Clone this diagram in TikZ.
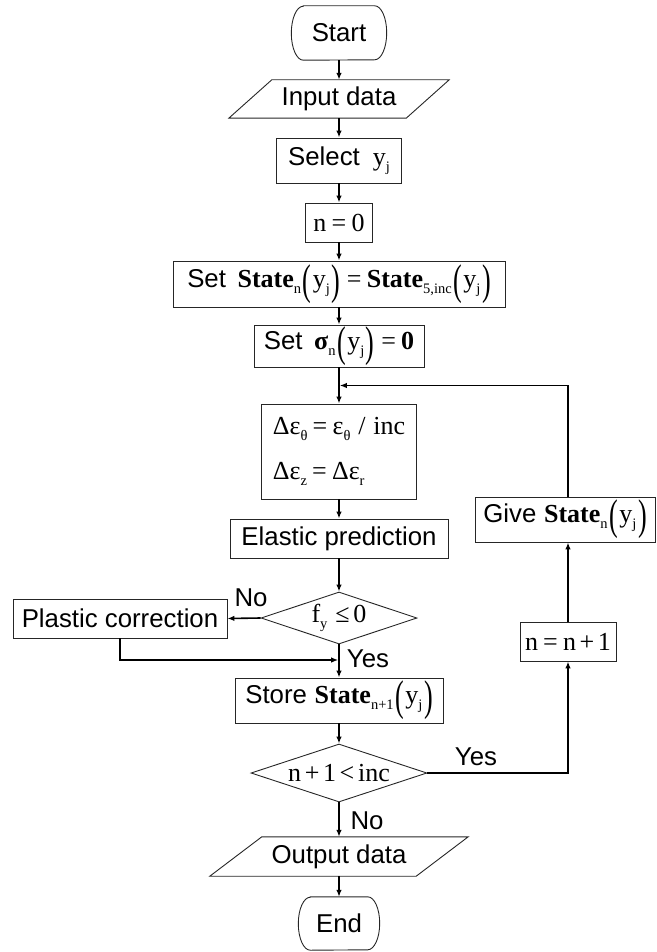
\documentclass[tikz,border=0pt]{standalone}
\usepackage{fontspec}
\setmainfont{Liberation Serif}
\setsansfont{Liberation Sans}
\usepackage{graphicx}
\usetikzlibrary{arrows.meta,shapes.geometric,calc}

% serif formula text, subscripts, tall parentheses and spaced operators
\newcommand\mth[1]{{\rmfamily\fontsize{26}{31}\selectfont #1}}
\newcommand\sbx[1]{\raisebox{-0.22em}{\fontsize{14.5}{14.5}\selectfont\rmfamily #1}}
\newcommand\lp{\hspace{0.06em}\raisebox{-0.27em}{\scalebox{1}[1.65]{(}}\hspace{0.06em}}
\newcommand\rp{\hspace{0.06em}\raisebox{-0.27em}{\scalebox{1}[1.65]{)}}\hspace{0.06em}}
\newcommand\eqs{\hspace{0.2em}=\hspace{0.2em}}
\newcommand\ops[1]{\hspace{0.14em}#1\hspace{0.14em}}

\tikzset{
  every node/.style={font=\sffamily\fontsize{25.8}{31}\selectfont, inner sep=0pt},
  boxline/.style={draw=black!85, line width=0.9pt},
  stepbox/.style={rectangle, boxline},
  plain/.style={rectangle},
  decision/.style={diamond, boxline},
  conn/.style={line width=1.6pt},
  arr/.style={conn, -{Latex[length=7pt,width=5.5pt]}},
}

\begin{document}
\begin{tikzpicture}[x=1pt,y=-1pt]
\useasboundingbox (0,0) rectangle (656,952);

% main column
\node[plain, minimum width=95, minimum height=54] (start) at (339,33) {Start};
\node[plain, minimum width=177, minimum height=38] (input) at (339,99) {Input data};
\node[stepbox, minimum width=125, minimum height=45] (select) at (339,160.5) {Select\hspace{0.5em}\mth{y\sbx{j}}};
\node[stepbox, minimum width=67, minimum height=39] (nzero) at (339,222.5) {\mth{n\eqs 0}};
\node[stepbox, minimum width=332, minimum height=46] (setstate) at (339,284)
  {Set\hspace{0.45em}\mth{\textbf{State}\sbx{n}\lp y\sbx{j}\rp\eqs\textbf{State}\sbx{5,inc}\lp y\sbx{j}\rp}};
\node[stepbox, minimum width=170, minimum height=42] (setsigma) at (339,346)
  {Set\hspace{0.45em}\mth{\textbf{σ}\sbx{n}\lp y\sbx{j}\rp\eqs\textbf{0}}};
\node[stepbox, minimum width=155, minimum height=95, align=left] (delta) at (339,451.5)
  {\mth{Δε\sbx{θ}\eqs ε\sbx{θ}\hspace{0.3em}/\hspace{0.3em}inc}\\[14pt]\mth{Δε\sbx{z}\eqs Δε\sbx{r}}};
\node[stepbox, minimum width=218, minimum height=39] (elastic) at (339,538.5) {Elastic prediction};
\node[decision, minimum width=156, minimum height=52] (fy) at (339,618) {};
\node (fytext) at (fy.center) {\mth{f\sbx{y}\hspace{0.3em}≤\hspace{0.15em}0}};
\node[stepbox, minimum width=214, minimum height=39] (plastic) at (120,618.5) {Plastic correction};
\node[stepbox, minimum width=208, minimum height=45] (store) at (339,700.5)
  {Store\hspace{0.3em}\mth{\textbf{State}\sbx{n+1}\lp y\sbx{j}\rp}};
\node[decision, minimum width=176, minimum height=58] (cond) at (339,773) {};
\node (condtext) at (cond.center) {\mth{n\ops{+}1\ops{<}inc}};
\node[plain, minimum width=206, minimum height=39] (output) at (339,856.5) {Output data};
\node[plain, minimum width=81, minimum height=53] (end) at (339,923.5) {End};

% right-hand loop
\node[stepbox, minimum width=96, minimum height=39] (ninc) at (568,641.5) {\mth{n\eqs n\ops{+}1}};
\node[stepbox, minimum width=180, minimum height=45] (give) at (565,519.5)
  {Give\hspace{0.3em}\mth{\textbf{State}\sbx{n}\lp y\sbx{j}\rp}};

% terminal outlines with elliptic ends
\draw[boxline] ($(start.north west)+(12,0)$) -- ($(start.north east)+(-12,0)$)
  arc[start angle=90, end angle=-90, x radius=12pt, y radius=27pt]
  -- ($(start.south west)+(12,0)$)
  arc[start angle=270, end angle=90, x radius=12pt, y radius=27pt] -- cycle;
\draw[boxline] ($(end.north west)+(12,0)$) -- ($(end.north east)+(-12,0)$)
  arc[start angle=90, end angle=-90, x radius=12pt, y radius=26.5pt]
  -- ($(end.south west)+(12,0)$)
  arc[start angle=270, end angle=90, x radius=12pt, y radius=26.5pt] -- cycle;

% data parallelograms
\draw[boxline] ($(input.south west)+(-21.5,0)$) -- ($(input.north west)+(21.5,0)$)
  -- ($(input.north east)+(21.5,0)$) -- ($(input.south east)+(-21.5,0)$) -- cycle;
\draw[boxline] ($(output.south west)+(-26,0)$) -- ($(output.north west)+(26,0)$)
  -- ($(output.north east)+(26,0)$) -- ($(output.south east)+(-26,0)$) -- cycle;

% junction points on the main column
\coordinate (loopin) at (339,385.5);
\coordinate (plasticin) at (339,660);

% connectors
\draw[arr] (start.south) -- (input.north);
\draw[arr] (input.south) -- (select.north);
\draw[arr] (select.south) -- (nzero.north);
\draw[arr] (nzero.south) -- (setstate.north);
\draw[arr] (setstate.south) -- (setsigma.north);
\draw[arr] (setsigma.south) -- (delta.north);
\draw[arr] (delta.south) -- (elastic.north);
\draw[arr] (elastic.south) -- (fy.north);
\draw[arr] (fy.west) -- (plastic.east);
\draw[arr, shorten >=0.8pt] (plastic.south) |- (plasticin);
\draw[arr] (fy.south) -- (store.north);
\draw[arr] (store.south) -- (cond.north);
\draw[arr] (cond.south) -- (output.north);
\draw[arr] (output.south) -- (end.north);
\draw[arr] (cond.east) -| (ninc.south);
\draw[arr] (ninc.north) -- (ninc.north |- give.south);
\draw[arr, shorten >=0.8pt] (ninc.north |- give.north) |- (loopin);

% branch labels
\node (nolabel) at (251,598) {No};
\node (yeslabel) at (368,659) {Yes};
\node (yesloop) at (476,757) {Yes};
\node (noend) at (367,821) {No};
\end{tikzpicture}
\end{document}
